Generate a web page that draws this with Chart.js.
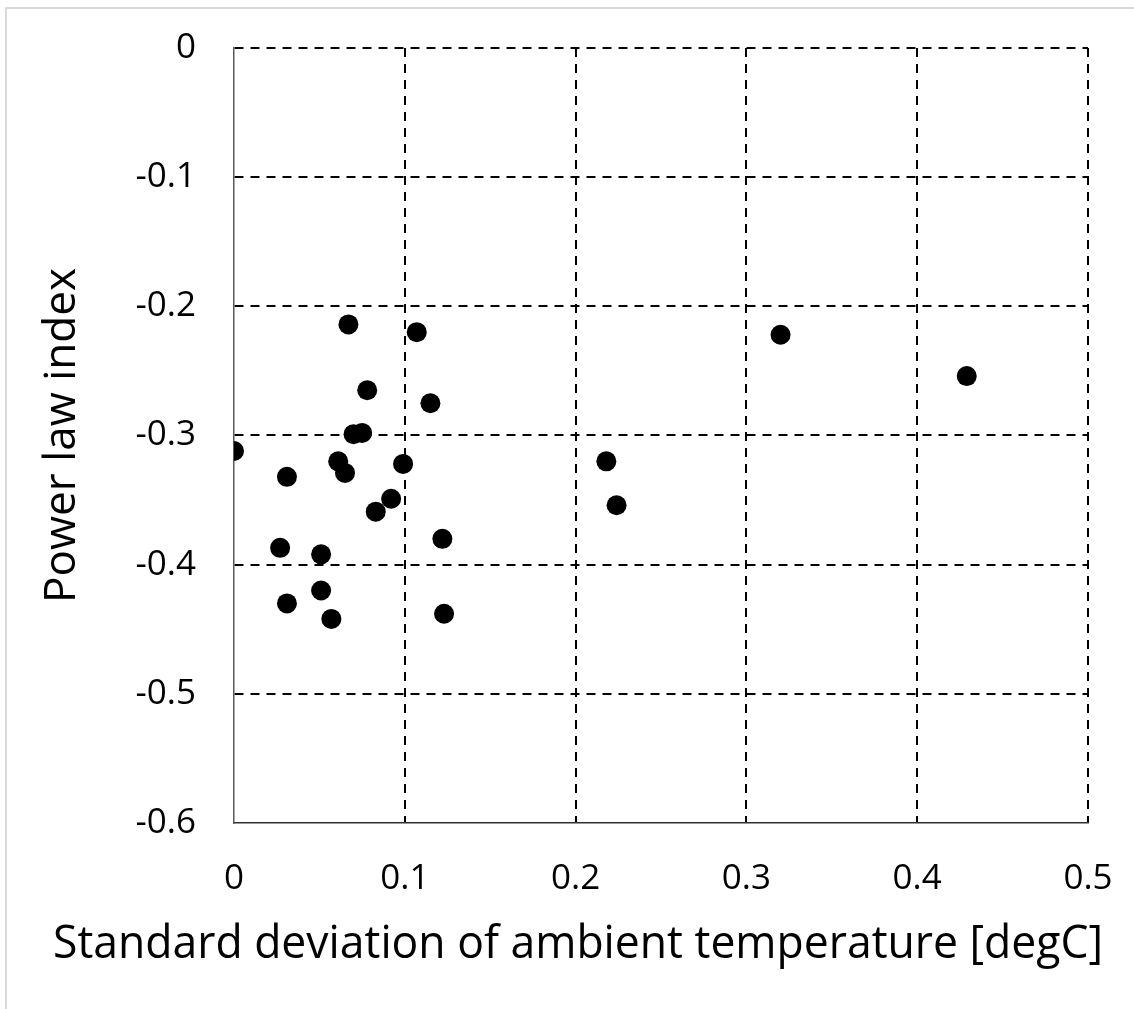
<!DOCTYPE html>
<html>
<head>
<meta charset="utf-8">
<script src="https://cdn.jsdelivr.net/npm/chart.js@4.4.1/dist/chart.umd.min.js"></script>
<style>
  html, body { margin: 0; padding: 0; background: #fff; }
  #wrap { position: relative; width: 1134px; height: 1009px; overflow: hidden; }
  #frame {
    position: absolute; left: 5px; top: 7px; right: 0; bottom: 0;
    border-top: 2px solid #d9d9d9; border-left: 2px solid #d9d9d9;
  }
  #myChart { position: absolute; left: 0; top: 0; }
</style>
</head>
<body>
<div id="wrap">
  <div id="frame"></div>
  <canvas id="myChart" width="1134" height="1009"></canvas>
</div>
<script>
// standard deviation of ambient temperature [degC]
var stdDevTemp = [
    0.067, 0.107, 0.078, 0.115, 0.070, 0.075, 0.000, 0.061,
    0.099, 0.065, 0.031, 0.092, 0.083, 0.122, 0.027, 0.051,
    0.051, 0.031, 0.057, 0.123, 0.320, 0.429, 0.218, 0.224
];
// fitted power law index
var powerLawIndex = [
    -0.214, -0.220, -0.265, -0.275, -0.299, -0.298, -0.312, -0.320,
    -0.322, -0.329, -0.332, -0.349, -0.359, -0.380, -0.387, -0.392,
    -0.420, -0.430, -0.442, -0.438, -0.222, -0.254, -0.320, -0.354
];
var xTickLabels = ['0', '0.1', '0.2', '0.3', '0.4', '0.5'];
var yTickLabels = ['-0.6', '-0.5', '-0.4', '-0.3', '-0.2', '-0.1', '0'];

var points = [];
for (let i = 0; i < stdDevTemp.length; i++) {
    points.push({x: stdDevTemp[i], y: powerLawIndex[i]});
}

var fontName = "'Open Sans'";
// hide the grid line that sits under the solid axis line
var gridColor = function (c) {
    return c.index === 0 ? 'rgba(0,0,0,0)' : '#000000';
};

var ctx = document.getElementById('myChart').getContext('2d');
var myChart = new Chart(ctx, {
    type: 'scatter',
    data: {
        datasets: [{
            data: points,
            backgroundColor: '#000000',
            borderWidth: 0,
            pointRadius: 10,
            pointHoverRadius: 10
        }]
    },
    options: {
        responsive: false,
        animation: false,
        events: [],
        layout: {
            autoPadding: false,
            padding: {left: 53, top: 48, right: 31, bottom: 0}
        },
        plugins: {
            legend: {display: false},
            tooltip: {enabled: false},
            // x axis title, centred under the whole figure
            title: {
                display: true,
                position: 'bottom',
                text: 'Standard deviation of ambient temperature [degC]',
                color: '#000000',
                font: {family: fontName, size: 45.3, weight: 'normal', lineHeight: 1.25},
                padding: {top: 0, bottom: 36}
            }
        },
        scales: {
            x: {
                type: 'linear',
                min: 0,
                max: 0.5,
                afterFit: function (scale) {
                    scale.height = 93.4;
                    scale.paddingLeft = 0;
                    // keeps the plot's right edge 46px in from the canvas edge
                    scale.paddingRight = 46;
                },
                ticks: {
                    stepSize: 0.1,
                    padding: 35,
                    color: '#000000',
                    font: {family: fontName, size: 35},
                    callback: function (value, index) { return xTickLabels[index]; }
                },
                grid: {
                    color: gridColor,
                    lineWidth: 2,
                    drawTicks: false
                },
                border: {
                    display: true,
                    color: '#303030',
                    width: 1.5,
                    dash: [9, 7]
                }
            },
            y: {
                type: 'linear',
                min: -0.6,
                max: 0,
                afterFit: function (scale) {
                    scale.width = 181;
                    scale.paddingTop = 0;
                    scale.paddingBottom = 0;
                },
                ticks: {
                    stepSize: 0.1,
                    padding: 38,
                    color: '#000000',
                    font: {family: fontName, size: 35},
                    callback: function (value, index) { return yTickLabels[index]; }
                },
                grid: {
                    color: gridColor,
                    lineWidth: 2,
                    drawTicks: false
                },
                border: {
                    display: true,
                    color: '#5a5a5a',
                    width: 1.5,
                    dash: [9, 7]
                },
                title: {
                    display: true,
                    text: 'Power law index',
                    color: '#000000',
                    font: {family: fontName, size: 44, lineHeight: 1},
                    padding: {top: -13, bottom: 0}
                }
            }
        }
    }
});
</script>
</body>
</html>
